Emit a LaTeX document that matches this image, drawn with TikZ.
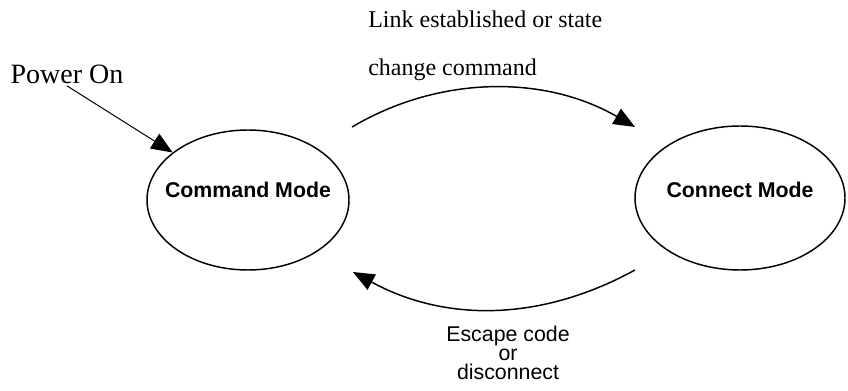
\documentclass[tikz,border=0pt]{standalone}
\usepackage{fontspec}
\setmainfont{Liberation Serif}
\setsansfont{Liberation Sans}
\usetikzlibrary{arrows.meta, shapes.geometric}

\begin{document}
\begin{tikzpicture}[x=0.75pt, y=-0.75pt,
    mode/.style={
        draw, ellipse, line width=1.1pt, inner ysep=0pt, inner xsep=-14pt,
        font=\sffamily\bfseries\fontsize{16}{19}\selectfont, text height=12pt
    },
    trans/.style={-{Triangle[length=16pt, width=13pt]}, line width=1.1pt},
    poweron/.style={-{Triangle[length=16pt, width=13pt]}, line width=0.75pt},
    tlab/.style={font=\fontsize{18}{36}\selectfont, align=left, inner sep=0pt},
    elab/.style={font=\sffamily\fontsize{16}{14}\selectfont, align=center, inner sep=0pt},
]
\useasboundingbox (0,0) rectangle (848,391);

% ================= modes =================
\node[mode, minimum width=151.5pt, minimum height=105pt, text depth=15pt]
    (cmd) at (248,200) {Command Mode};
\node[mode, minimum width=157.5pt, minimum height=108pt, text depth=12pt]
    (conn) at (740,198) {Connect Mode};

% ================= power on =================
\node[font=\fontsize{21}{25}\selectfont, inner sep=1pt, anchor=base west]
    (powertxt) at (9,84) {Power On};
\draw[poweron] (powertxt.south) -- (cmd);

% ================= transitions =================
\coordinate (lk0) at (352,127);
\coordinate (lk1) at (635,127);
\draw[trans] (lk0) .. controls (440,75) and (545,75) .. (lk1);
\node[tlab, anchor=base west] (linktxt) at (368,76)
    {Link established or state\\change command};

\coordinate (es0) at (635,270);
\coordinate (es1) at (353,272);
\draw[trans] (es0) .. controls (540,322) and (445,322) .. (es1);
\node[elab, anchor=base] (esctxt) at (508,379)
    {Escape code\\or\\disconnect};

\end{tikzpicture}
\end{document}
